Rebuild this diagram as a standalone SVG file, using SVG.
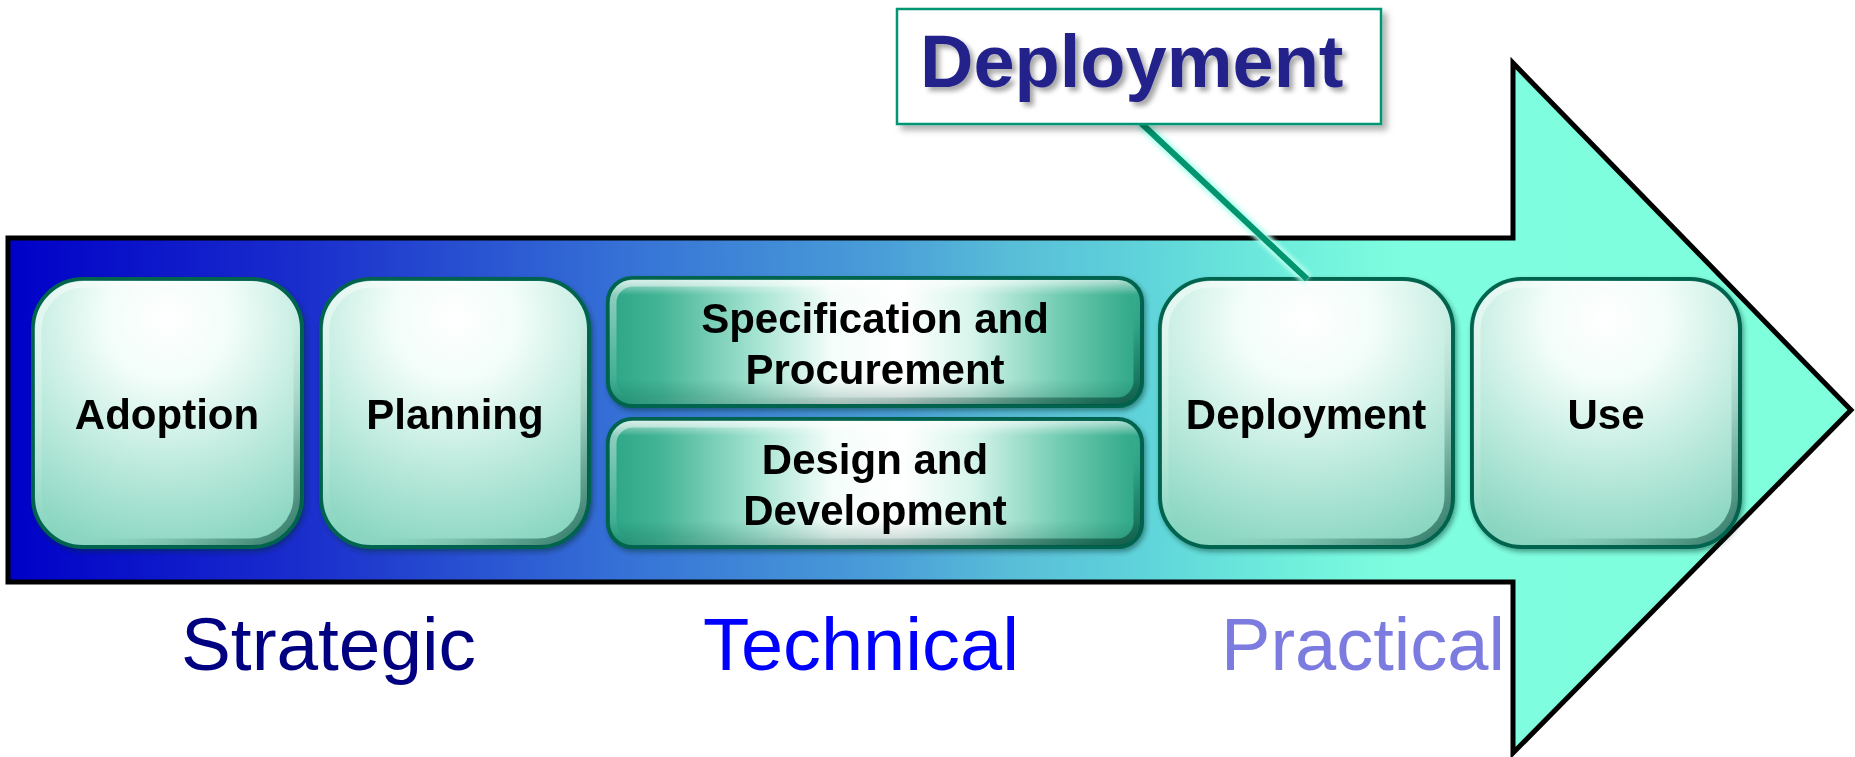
<svg xmlns="http://www.w3.org/2000/svg" width="1855" height="757" viewBox="0 0 1855 757">
<style>
.lbl{font-family:"Liberation Sans",Arial,sans-serif;font-weight:bold;font-size:42px;fill:#000;text-anchor:middle}
.phase{font-family:"Liberation Sans",Arial,sans-serif;font-size:75px}
.box{stroke:#00644e;stroke-width:4}
.bevel{fill:none;stroke:url(#bevel);stroke-width:7}
</style>
<defs>
<linearGradient id="arrowFill" gradientUnits="userSpaceOnUse" x1="8" y1="0" x2="1852" y2="0">
<stop offset="0" stop-color="#0000c8"/>
<stop offset="0.16" stop-color="#1a2ecc"/>
<stop offset="0.33" stop-color="#3570d6"/>
<stop offset="0.477" stop-color="#4a9fd8"/>
<stop offset="0.54" stop-color="#58bcd8"/>
<stop offset="0.615" stop-color="#5fd3da"/>
<stop offset="0.70" stop-color="#70f0dc"/>
<stop offset="0.755" stop-color="#7ffde0"/>
<stop offset="1" stop-color="#7fffdb"/>
</linearGradient>
<radialGradient id="sqFill" cx="0.5" cy="0.15" r="0.95">
<stop offset="0" stop-color="#ffffff"/>
<stop offset="0.25" stop-color="#f2fdf9"/>
<stop offset="0.55" stop-color="#c2ece0"/>
<stop offset="1" stop-color="#7fd2bb"/>
</radialGradient>
<linearGradient id="wideFill" x1="0" y1="0" x2="1" y2="0">
<stop offset="0" stop-color="#2aa585"/>
<stop offset="0.1" stop-color="#45b597"/>
<stop offset="0.28" stop-color="#a6e4d2"/>
<stop offset="0.42" stop-color="#f4fdfa"/>
<stop offset="0.55" stop-color="#ffffff"/>
<stop offset="0.68" stop-color="#d8f5ec"/>
<stop offset="0.85" stop-color="#6fcbb0"/>
<stop offset="1" stop-color="#2aa585"/>
</linearGradient>
<linearGradient id="wideShade" x1="0" y1="0" x2="0" y2="1">
<stop offset="0" stop-color="#ffffff" stop-opacity="0.6"/>
<stop offset="0.12" stop-color="#ffffff" stop-opacity="0"/>
<stop offset="0.8" stop-color="#004a38" stop-opacity="0"/>
<stop offset="1" stop-color="#004a38" stop-opacity="0.25"/>
</linearGradient>
<linearGradient id="bevel" x1="0" y1="0" x2="1" y2="1">
<stop offset="0" stop-color="#ffffff" stop-opacity="0.5"/>
<stop offset="0.5" stop-color="#ffffff" stop-opacity="0"/>
<stop offset="0.75" stop-color="#003c2e" stop-opacity="0.15"/>
<stop offset="1" stop-color="#003c2e" stop-opacity="0.6"/>
</linearGradient>
<filter id="shadow" x="-10%" y="-10%" width="125%" height="125%">
<feDropShadow dx="2" dy="3" stdDeviation="2.5" flood-color="#002a20" flood-opacity="0.45"/>
</filter>
<filter id="calloutShadow" x="-10%" y="-20%" width="125%" height="150%">
<feDropShadow dx="5" dy="5" stdDeviation="3" flood-color="#000" flood-opacity="0.3"/>
</filter>
<filter id="textShadow" x="-10%" y="-20%" width="125%" height="150%">
<feDropShadow dx="4" dy="4" stdDeviation="2.5" flood-color="#000" flood-opacity="0.35"/>
</filter>
<filter id="glow" x="-20%" y="-20%" width="140%" height="140%">
<feGaussianBlur stdDeviation="2"/>
</filter>
</defs>

<g id="arrow">
<polygon points="8,238 1513,238 1513,63 1851,410 1513,753 1513,582 8,582" fill="url(#arrowFill)" stroke="#000" stroke-width="5" stroke-linejoin="miter"/>
</g>

<g id="node-adoption" filter="url(#shadow)">
<rect class="box" x="33" y="279" width="269" height="268" rx="50" fill="url(#sqFill)"/>
<rect class="bevel" x="38" y="284" width="259" height="258" rx="46"/>
<text class="lbl" x="167" y="429">Adoption</text>
</g>

<g id="node-planning" filter="url(#shadow)">
<rect class="box" x="321" y="279" width="268" height="268" rx="50" fill="url(#sqFill)"/>
<rect class="bevel" x="326" y="284" width="258" height="258" rx="46"/>
<text class="lbl" x="455" y="429">Planning</text>
</g>

<g id="node-specification" filter="url(#shadow)">
<rect class="box" x="608" y="278" width="534" height="128" rx="24" fill="url(#wideFill)"/>
<rect x="610" y="280" width="530" height="124" rx="22" fill="url(#wideShade)"/>
<rect class="bevel" x="613" y="283" width="524" height="118" rx="20"/>
<text class="lbl" x="875" y="333">Specification and</text>
<text class="lbl" x="875" y="384">Procurement</text>
</g>

<g id="node-design" filter="url(#shadow)">
<rect class="box" x="608" y="419" width="534" height="128" rx="24" fill="url(#wideFill)"/>
<rect x="610" y="421" width="530" height="124" rx="22" fill="url(#wideShade)"/>
<rect class="bevel" x="613" y="424" width="524" height="118" rx="20"/>
<text class="lbl" x="875" y="474">Design and</text>
<text class="lbl" x="875" y="525">Development</text>
</g>

<g id="node-deployment" filter="url(#shadow)">
<rect class="box" x="1160" y="279" width="293" height="268" rx="50" fill="url(#sqFill)"/>
<rect class="bevel" x="1165" y="284" width="283" height="258" rx="46"/>
<text class="lbl" x="1306" y="429">Deployment</text>
</g>

<g id="node-use" filter="url(#shadow)">
<rect class="box" x="1472" y="279" width="268" height="268" rx="50" fill="url(#sqFill)"/>
<rect class="bevel" x="1477" y="284" width="258" height="258" rx="46"/>
<text class="lbl" x="1606" y="429">Use</text>
</g>

<g id="connectors">
<line x1="1141" y1="123" x2="1307" y2="279" stroke="#b8fff0" stroke-width="12" filter="url(#glow)"/>
<line x1="1141" y1="123" x2="1307" y2="279" stroke="#00956f" stroke-width="6"/>
</g>

<g id="node-callout">
<rect x="897" y="9" width="484" height="115" fill="#ffffff" stroke="#009673" stroke-width="2.5" filter="url(#calloutShadow)"/>
<text x="920" y="87" font-family="'Liberation Sans',Arial,sans-serif" font-weight="bold" font-size="74" fill="#22228a" filter="url(#textShadow)">Deployment</text>
</g>

<g id="phases">
<text class="phase" x="181" y="670" fill="#000080" textLength="295" lengthAdjust="spacingAndGlyphs">Strategic</text>
<text class="phase" x="703" y="670" fill="#0000ff" textLength="316" lengthAdjust="spacingAndGlyphs">Technical</text>
<text class="phase" x="1221" y="670" fill="#7b7be0" textLength="284" lengthAdjust="spacingAndGlyphs">Practical</text>
</g>
</svg>
